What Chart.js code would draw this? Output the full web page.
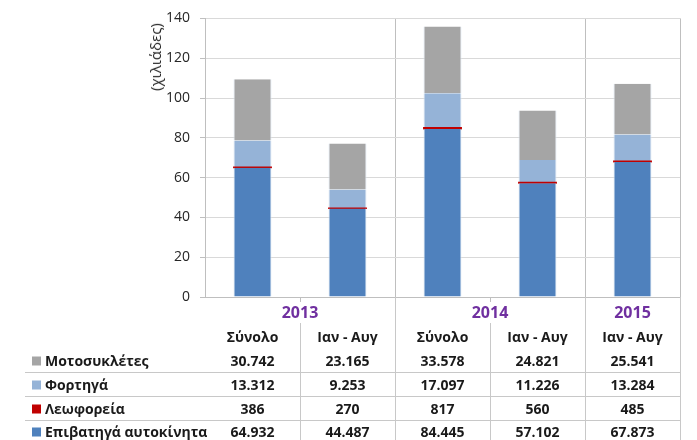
<!DOCTYPE html>
<html>
<head>
<meta charset="utf-8">
<script src="https://cdn.jsdelivr.net/npm/chart.js@4/dist/chart.umd.min.js"></script>
<style>
  body { margin: 0; background: #fff; font-family: "Open Sans", sans-serif; }
  #wrap { position: relative; width: 697px; height: 440px; overflow: hidden; }
  #wrap canvas { position: absolute; left: 0; top: 0; }
  .c { position: absolute; white-space: nowrap; transform: translate(-50%, -50%); font-weight: bold; font-size: 14px; color: #1a1a1a; }
  .yr { color: #7030a0; font-size: 16px; }
  .lbl { position: absolute; white-space: nowrap; transform: translateY(-50%); font-weight: bold; font-size: 14px; color: #1a1a1a; }
  .sq { display: inline-block; width: 9px; height: 9px; margin-right: 4px; vertical-align: 0px; }
  .hl, .vl { position: absolute; background: #c8c8c8; }
  .hl { height: 1px; }
  .vl { width: 1px; }
  #ytitle { position: absolute; left: 155px; top: 57px; transform: translate(-50%, -50%) rotate(-90deg); font-size: 15px; color: #262626; white-space: nowrap; }
</style>
</head>
<body>
<div id="wrap">
  <canvas id="grafico" width="697" height="440"></canvas>
  <div id="ytitle">(χιλιάδες)</div>
</div>
<script>
  const categories = ['Σύνολο', 'Ιαν - Αυγ', 'Σύνολο', 'Ιαν - Αυγ', 'Ιαν - Αυγ'];
  const years = ['2013', '2014', '2015'];
  const yearSpans = [2, 2, 1];

  // χιλιάδες οχήματα
  const epivatiga = [64.932, 44.487, 84.445, 57.102, 67.873];
  const leoforeia = [0.386, 0.270, 0.817, 0.560, 0.485];
  const fortiga = [13.312, 9.253, 17.097, 11.226, 13.284];
  const motosikletes = [30.742, 23.165, 33.578, 24.821, 25.541];

  const yMin = 0, yMax = 140, yStep = 20;

  const gridGrey = '#d9d9d9';
  const lineGrey = '#bfbfbf';

  const series = [
    { label: 'Επιβατηγά αυτοκίνητα', data: epivatiga, color: '#4f81bd', edge: true },
    { label: 'Λεωφορεία', data: leoforeia, color: '#c00000', edge: false },
    { label: 'Φορτηγά', data: fortiga, color: '#95b3d7', edge: true },
    { label: 'Μοτοσυκλέτες', data: motosikletes, color: '#a5a5a5', edge: true }
  ];

  const ctx = document.getElementById('grafico').getContext('2d');

  const chart = new Chart(ctx, {
    type: 'bar',
    data: {
      labels: categories,
      datasets: series.map(s => ({
        label: s.label,
        data: s.data,
        backgroundColor: s.color,
        borderColor: '#dce6f2',
        borderWidth: s.edge ? { left: 1, right: 1, top: 0, bottom: 0 } : 0,
        borderSkipped: false,
        inflateAmount: s.edge ? 'auto' : 0.45,
        barPercentage: 0.4,
        categoryPercentage: 1
      }))
    },
    options: {
      responsive: false,
      animation: false,
      layout: { padding: { left: 0, right: 17, top: 18, bottom: 0 } },
      plugins: {
        legend: { display: false },
        tooltip: { enabled: false }
      },
      scales: {
        x: {
          stacked: true,
          ticks: { display: false },
          border: { color: lineGrey },
          grid: {
            offset: true,
            tickLength: 5,
            color: c => (c.index === undefined || c.index === 2 || c.index === 4) ? lineGrey : 'transparent',
            tickColor: c => (c.index === 0) ? 'transparent' : lineGrey
          },
          afterFit: scale => { scale.height = 143; }
        },
        y: {
          stacked: true,
          min: yMin,
          max: yMax,
          ticks: { stepSize: yStep, padding: 10, color: '#262626', font: { family: 'Open Sans', size: 14 } },
          border: { color: lineGrey },
          grid: { color: gridGrey, tickColor: lineGrey, tickLength: 5 },
          afterFit: scale => { scale.width = 205; }
        }
      }
    }
  });

  // πίνακας κάτω από το γράφημα
  const wrap = document.getElementById('wrap');
  const xs = chart.scales.x;
  const area = chart.chartArea;
  const centers = categories.map((c, i) => xs.getPixelForValue(i));
  const step = centers[1] - centers[0];
  const edges = centers.map(c => c - step / 2).concat([centers[centers.length - 1] + step / 2]);

  function el(cls, css, text) {
    const d = document.createElement('div');
    d.className = cls;
    Object.assign(d.style, css);
    if (text !== undefined) d.textContent = text;
    wrap.appendChild(d);
    return d;
  }
  function fmt(v) {
    return String(Math.round(v * 1000)).replace(/\B(?=(\d{3})+(?!\d))/g, '.');
  }

  const yearY = 312, headY = 336, rowY = [360, 384, 408, 431];

  let col = 0;
  years.forEach((y, k) => {
    const a = edges[col], b = edges[col + yearSpans[k]];
    el('c yr', { left: (a + b) / 2 + 'px', top: yearY + 'px' }, y);
    col += yearSpans[k];
    // η διαχωριστική γραμμή συνεχίζει μέσα στον πίνακα
    el('vl', { left: Math.round(b) + 'px', top: area.bottom + 'px', height: (440 - area.bottom) + 'px' });
    for (let j = 1; j < yearSpans[k]; j++) {
      el('vl', { left: Math.round(edges[col - yearSpans[k] + j]) + 'px', top: '323px', height: '117px' });
    }
  });

  categories.forEach((c, i) => {
    el('c', { left: centers[i] + 'px', top: headY + 'px' }, c);
  });

  const rows = series.slice().reverse();
  rows.forEach((s, r) => {
    const lab = el('lbl', { left: '32px', top: rowY[r] + 'px' });
    const sq = document.createElement('span');
    sq.className = 'sq';
    sq.style.background = s.color;
    lab.appendChild(sq);
    lab.appendChild(document.createTextNode(s.label));
    s.data.forEach((v, i) => {
      el('c', { left: centers[i] + 'px', top: rowY[r] + 'px' }, fmt(v));
    });
    if (r < rows.length - 1) {
      el('hl', { left: '25px', top: Math.round((rowY[r] + rowY[r + 1]) / 2) + 'px', width: (Math.round(edges[edges.length - 1]) - 25) + 'px' });
    }
  });
</script>
</body>
</html>
